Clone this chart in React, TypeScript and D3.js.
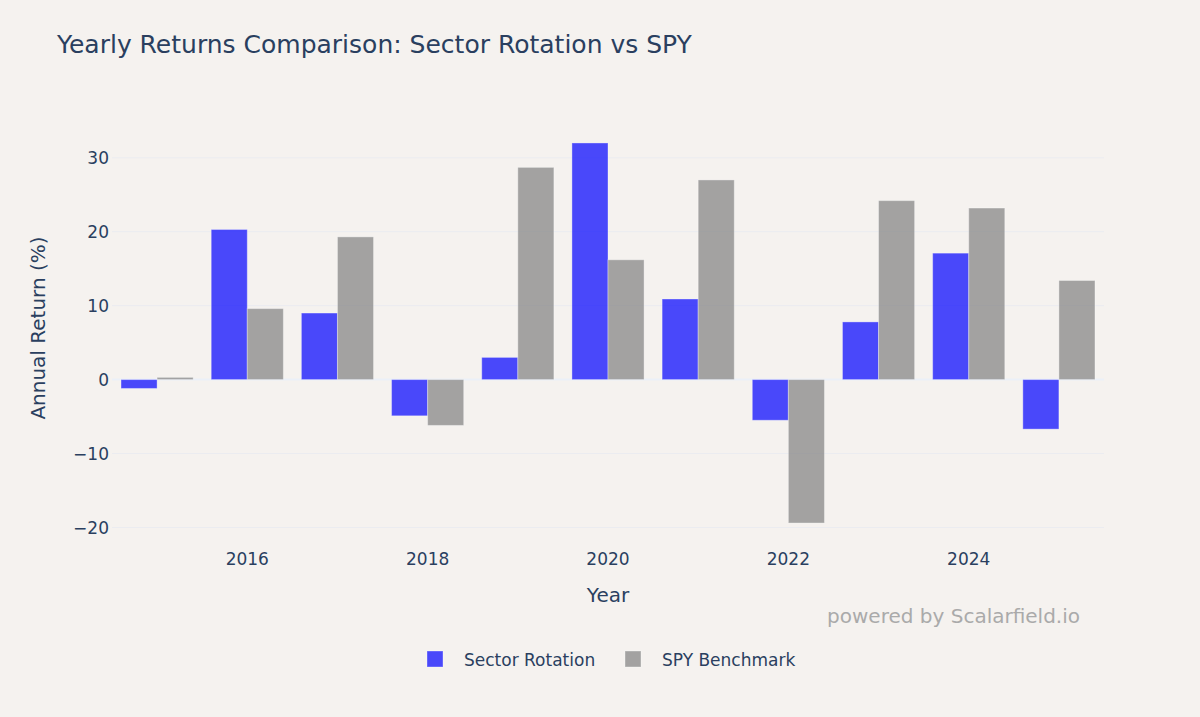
import React from 'react';
import * as d3 from 'd3';

const years = [2015, 2016, 2017, 2018, 2019, 2020, 2021, 2022, 2023, 2024, 2025];
const sectorRotation = [-1.2, 20.3, 9.0, -4.9, 3.0, 32.0, 10.9, -5.5, 7.8, 17.1, -6.7];
const spyBenchmark = [0.3, 9.6, 19.3, -6.2, 28.7, 16.2, 27.0, -19.4, 24.2, 23.2, 13.4];
const seriesNames = ['Sector Rotation', 'SPY Benchmark'];
const seriesColors = ['rgba(0,0,255,0.7)', 'rgba(128,128,128,0.7)'];
const xTicks = [2016, 2018, 2020, 2022, 2024];
const yTicks = [-20, -10, 0, 10, 20, 30];

const width = 1200;
const height = 717;
const font = '"DejaVu Sans", verdana, arial, sans-serif';
const textColor = '#2a3f5f';

const App: React.FC = () => {
  const plot = { left: 112, right: 1104, top: 123, bottom: 543 };

  const x = d3.scaleLinear().domain([2014.5, 2025.5]).range([plot.left, plot.right]);
  const y = d3.scaleLinear().domain([-22.1, 34.7]).range([plot.bottom, plot.top]);

  // grouped bars: each series takes 0.4 of a year, 0.2 gap
  const barW = x(2015.4) - x(2015);
  const series = [sectorRotation, spyBenchmark];

  return (
    <svg width={width} height={height} style={{ position: 'absolute', left: 0, top: 0 }}>
      <rect width={width} height={height} fill="#f5f2ef" />

      {/* title */}
      <text x={57} y={53} fontFamily={font} fontSize={25} fill={textColor}>
        Yearly Returns Comparison: Sector Rotation vs SPY
      </text>

      {/* grid */}
      {yTicks.filter(t => t !== 0).map(t => (
        <line key={t} x1={plot.left} x2={plot.right} y1={y(t)} y2={y(t)} stroke="#ebecf0" strokeWidth={1} />
      ))}
      <line x1={plot.left} x2={plot.right} y1={y(0)} y2={y(0)} stroke="#ebf0f8" strokeWidth={2} />

      {/* bars */}
      {series.map((vals, si) =>
        vals.map((v, i) => {
          const x0 = x(years[i]) - barW + si * barW;
          const y0 = Math.min(y(v), y(0));
          const h = Math.abs(y(v) - y(0));
          return (
            <rect
              key={`${si}-${i}`}
              x={x0}
              y={y0}
              width={barW}
              height={h}
              fill={seriesColors[si]}
              stroke="rgba(255,255,255,0.35)"
              strokeWidth={1}
            />
          );
        })
      )}

      {/* y ticks */}
      {yTicks.map(t => (
        <text key={t} x={109} y={y(t)} dy="0.36em" textAnchor="end" fontFamily={font} fontSize={17} fill={textColor}>
          {t < 0 ? `\u2212${Math.abs(t)}` : t}
        </text>
      ))}

      {/* x ticks */}
      {xTicks.map(t => (
        <text key={t} x={x(t)} y={565} textAnchor="middle" fontFamily={font} fontSize={17} fill={textColor}>
          {t}
        </text>
      ))}

      {/* axis titles */}
      <text x={x(2020)} y={602} textAnchor="middle" fontFamily={font} fontSize={20} fill={textColor}>
        Year
      </text>
      <text
        transform={`translate(45,328) rotate(-90)`}
        textAnchor="middle"
        fontFamily={font}
        fontSize={20}
        fill={textColor}
      >
        Annual Return (%)
      </text>

      {/* watermark */}
      <text x={1080} y={623} textAnchor="end" fontFamily={font} fontSize={20} fill="#aaaaaa">
        powered by Scalarfield.io
      </text>

      {/* legend */}
      {seriesNames.map((name, i) => {
        const lx = i === 0 ? 427 : 625;
        return (
          <g key={name}>
            <rect x={lx} y={651} width={16} height={16} fill={seriesColors[i]} stroke="rgba(255,255,255,0.35)" />
            <text x={lx + 37} y={666} fontFamily={font} fontSize={17} fill={textColor}>
              {name}
            </text>
          </g>
        );
      })}
    </svg>
  );
};

export default App;
